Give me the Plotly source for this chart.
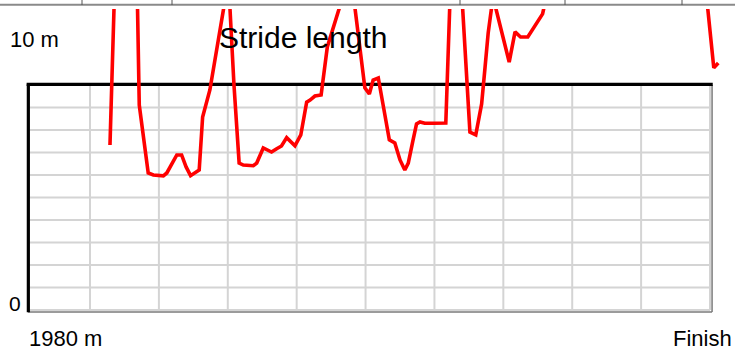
import plotly.graph_objects as go

# Stride length over the closing stretch (distance in m, stride in m)
distance_m = [
    1982.58, 1982.73, 1983.04, 1983.36, 1983.43, 1983.69, 1983.84, 1984.13,
    1984.23, 1984.37, 1984.52, 1984.66, 1984.79, 1984.92, 1985.17, 1985.27,
    1985.48, 1986.02, 1986.18, 1986.33, 1986.45, 1986.74, 1986.84, 1987.03,
    1987.13, 1987.27, 1987.42, 1987.56, 1987.71, 1987.95, 1988.12, 1988.29,
    1988.39, 1988.53, 1988.71, 1988.89, 1989.40, 1989.61, 1989.98, 1990.11,
    1990.22, 1990.37, 1990.51, 1990.69, 1990.85, 1991.00, 1991.14, 1991.24,
    1991.38, 1991.48, 1991.58, 1991.72, 1991.97, 1992.33, 1992.48, 1992.65,
    1992.77, 1993.03, 1993.20, 1993.37, 1993.47, 1993.56, 1993.70, 1994.00,
    1994.17, 1994.34, 1994.50, 1994.71, 1994.87, 1995.14, 1995.29, 1996.22,
    1997.38, 1998.55, 1999.85, 2000.11, 2000.24,
]
stride_m = [
    7.33, 15.11, 15.56, 15.11, 9.11, 6.09, 6.00, 5.96,
    6.09, 6.49, 6.89, 6.89, 6.36, 5.97, 6.22, 8.58,
    9.78, 14.67, 10.00, 6.53, 6.44, 6.41, 6.53, 7.20,
    7.11, 7.02, 7.17, 7.29, 7.66, 7.30, 7.78, 9.24,
    9.33, 9.51, 9.56, 11.69, 14.22, 14.44, 9.87, 9.60,
    10.22, 10.31, 9.11, 7.56, 7.42, 6.67, 6.22, 6.53,
    7.56, 8.27, 8.36, 8.30, 8.30, 8.31, 15.11, 15.56,
    14.67, 7.91, 7.78, 9.16, 10.80, 12.31, 13.91, 12.00,
    11.02, 12.36, 12.13, 12.13, 12.53, 13.16, 14.22, 15.11,
    15.56, 15.11, 14.67, 10.76, 10.98,
]

# Frame of the stride panel
x_start, x_finish = 1980.2, 2000.0
y_low, y_high = 0, 10
x_grid = [1982, 1984, 1986, 1988, 1990, 1992, 1994, 1996, 1998]
y_grid = [1, 2, 3, 4, 5, 6, 7, 8, 9]

title_text = "Stride length"
y_top_label, y_bottom_label = "10 m", "0"
x_left_label, x_right_label = "1980 m", "Finish"

W, H = 735, 350
TOP = 9  # plot area starts a few pixels below the page top


def px(xp):
    return xp / W


def py(yp):
    return (H - yp) / (H - TOP)


FONT = "Liberation Sans, Arial, sans-serif"

fig = go.Figure()
fig.add_trace(go.Scatter(
    x=distance_m, y=stride_m, mode="lines",
    line=dict(color="#ff0000", width=3.6),
    hoverinfo="skip", showlegend=False,
))

shapes = []
grid_style = dict(color="#d4d4d4", width=2)
for gx in x_grid:
    shapes.append(dict(type="line", xref="x", yref="y", x0=gx, x1=gx,
                       y0=y_low, y1=y_high, line=grid_style, layer="below"))
for gy in y_grid:
    shapes.append(dict(type="line", xref="x", yref="y", x0=x_start, x1=x_finish,
                       y0=gy, y1=gy, line=grid_style, layer="below"))

# inset-style bottom and right edges
shapes += [
    dict(type="line", xref="x", yref="y", x0=x_start, x1=x_finish, y0=y_low, y1=y_low,
         line=dict(color="#d4d4d4", width=2), layer="below"),
    dict(type="line", xref="x", yref="y", x0=x_finish, x1=x_finish, y0=y_low, y1=y_high,
         line=dict(color="#d4d4d4", width=2), layer="below"),
    dict(type="line", xref="x", yref="y", x0=x_start, x1=x_finish + 0.06,
         y0=y_low - 0.09, y1=y_low - 0.09,
         line=dict(color="#7a7a7a", width=1.5), layer="below"),
    dict(type="line", xref="x", yref="y", x0=x_finish + 0.06, x1=x_finish + 0.06,
         y0=y_low - 0.09, y1=y_high,
         line=dict(color="#7a7a7a", width=1.5), layer="below"),
    # heavy top and left edges
    dict(type="line", xref="x", yref="y", x0=x_start - 0.04, x1=x_finish + 0.08,
         y0=y_high + 0.03, y1=y_high + 0.03,
         line=dict(color="#000000", width=3.2), layer="below"),
    dict(type="line", xref="x", yref="y", x0=x_start + 0.01, x1=x_start + 0.01,
         y0=y_low - 0.1, y1=y_high + 0.03,
         line=dict(color="#000000", width=3.2), layer="below"),
]

# rule and ticks along the page top
shapes.append(dict(type="line", xref="paper", yref="paper", x0=0, x1=1,
                   y0=py(4.7), y1=py(4.7), line=dict(color="#8a8a8a", width=2)))
for tx in [82, 172, 460, 565, 682]:
    shapes.append(dict(type="line", xref="paper", yref="paper", x0=px(tx), x1=px(tx),
                       y0=py(0), y1=py(5), line=dict(color="#555555", width=1)))

annotations = [
    dict(text=title_text, x=px(218), y=py(37), xanchor="left", yanchor="middle",
         font=dict(size=30, color="#000000", family=FONT)),
    dict(text=y_top_label, x=px(9), y=py(39.5), xanchor="left", yanchor="middle",
         font=dict(size=22, color="#000000", family=FONT)),
    dict(text=y_bottom_label, x=px(7.5), y=py(303.5), xanchor="left", yanchor="middle",
         font=dict(size=21, color="#000000", family=FONT)),
    dict(text=x_left_label, x=px(28), y=py(338.5), xanchor="left", yanchor="middle",
         font=dict(size=22, color="#000000", family=FONT)),
    dict(text=x_right_label, x=px(733), y=py(338.5), xanchor="right", yanchor="middle",
         font=dict(size=22, color="#000000", family=FONT)),
]
for a in annotations:
    a.update(xref="paper", yref="paper", showarrow=False, borderpad=0)

px_per_m = (710 - 28) / (x_finish - x_start)
px_per_unit = 22.5
fig.update_layout(
    width=W, height=H,
    margin=dict(l=0, r=0, t=TOP, b=0, pad=0),
    paper_bgcolor="#ffffff", plot_bgcolor="#ffffff",
    xaxis=dict(range=[x_start - 28 / px_per_m, x_start + (W - 28) / px_per_m],
               visible=False, fixedrange=True),
    yaxis=dict(range=[-(H - 310) / px_per_unit, (310 - TOP) / px_per_unit],
               visible=False, fixedrange=True),
    shapes=shapes, annotations=annotations, showlegend=False,
)

fig.write_html("out.html", config={"displayModeBar": False})
